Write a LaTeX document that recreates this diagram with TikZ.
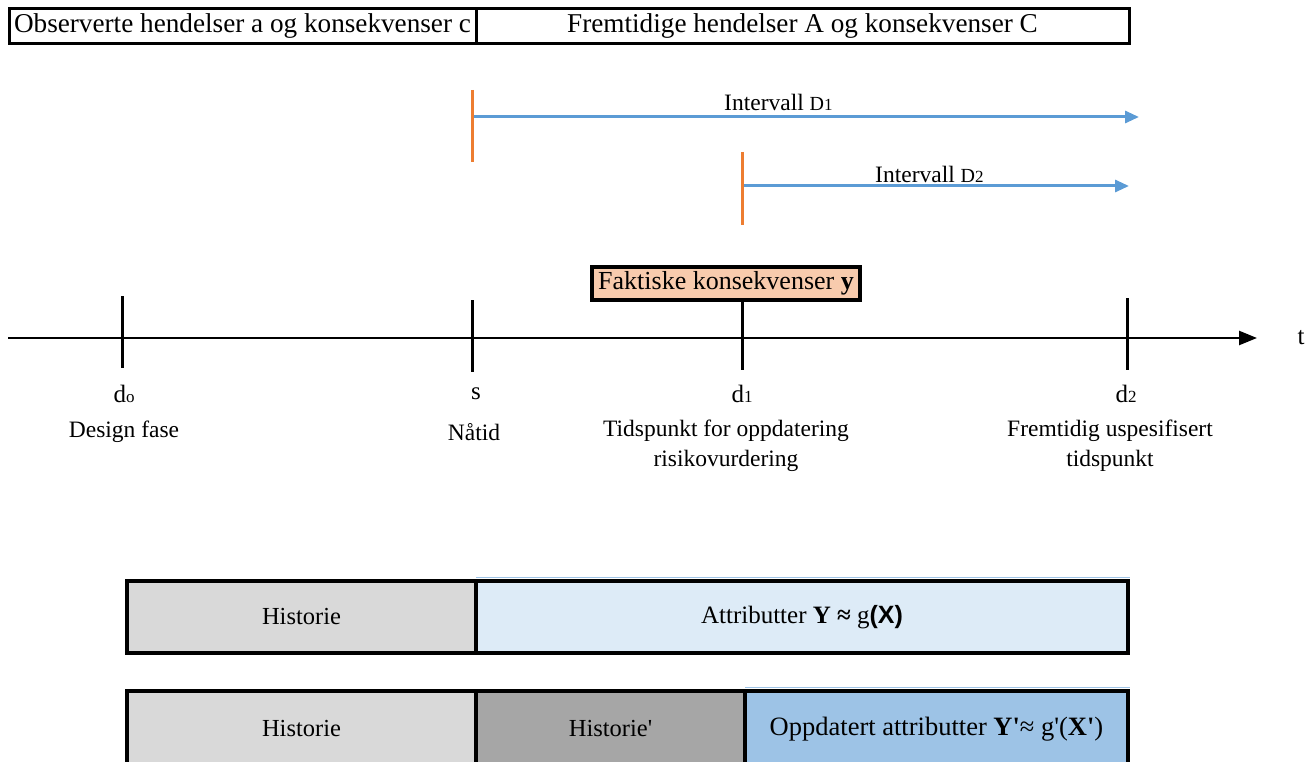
\documentclass[tikz,border=0pt]{standalone}
\usepackage{fontspec}
\setmainfont{Liberation Serif}[Ligatures=TeXOff]
\newfontfamily\sansfam{Liberation Sans}[Ligatures=TeXOff]
\usetikzlibrary{arrows.meta}

\definecolor{arrowblue}{HTML}{5B9BD5}
\definecolor{markorange}{HTML}{ED7D31}
\definecolor{peach}{HTML}{F8CBAD}
\definecolor{paleblue}{HTML}{DDEBF7}
\definecolor{midblue}{HTML}{9DC3E6}
\definecolor{lightgrey}{HTML}{D9D9D9}
\definecolor{darkgrey}{HTML}{A6A6A6}

\newcommand\setfs[1]{\fontsize{#1}{#1}\selectfont}

\tikzset{
  headbox/.style={draw=black, line width=3pt, inner sep=0pt, font=\setfs{27.2}},
  factbox/.style={draw=black, line width=4pt, fill=peach, inner sep=0pt, font=\setfs{26}},
  barbox/.style={draw=black, line width=4pt, inner sep=0pt, font=\setfs{24.5}},
  axisline/.style={line width=2.5pt, -{Triangle[length=18pt,width=14pt]}},
  tick/.style={line width=3pt},
  startmark/.style={markorange, line width=3pt},
  interval/.style={arrowblue, line width=3pt, -{Triangle[length=14pt,width=12pt]}},
  intlabel/.style={anchor=base west, inner sep=0pt, font=\setfs{23.5}},
  pointlabel/.style={inner sep=0pt, font=\setfs{25}},
  desclabel/.style={inner sep=0pt, font=\fontsize{23.5}{30}\selectfont, align=center},
  edgeline/.style={midblue, line width=1.2pt}
}

\begin{document}
\begin{tikzpicture}[x=1pt,y=-1pt]
\useasboundingbox (0,0) rectangle (1309,762);
\clip (0,0) rectangle (1309,762);

% header: observed vs. future events
\node[headbox, minimum width=467pt, minimum height=35pt] (obs) at (242.5,26.5)
  {Observerte hendelser a og konsekvenser c};
\node[headbox, minimum width=653pt, minimum height=35pt] (fut) at (802.5,26.5)
  {Fremtidige hendelser A og konsekvenser C};

% interval D1
\coordinate (m1top) at (472,90);
\coordinate (m1bot) at (472,162);
\coordinate (i1s) at (472,117);
\coordinate (i1e) at (1139,117);
\draw[interval] (i1s) -- (i1e);
\draw[startmark] (m1top) -- (m1bot);
\node[intlabel] (lab1) at (724,111) {Intervall {\setfs{20}D}{\setfs{17}1}};

% interval D2
\coordinate (m2top) at (742,152);
\coordinate (m2bot) at (742,225);
\coordinate (i2s) at (742,186);
\coordinate (i2e) at (1129,186);
\draw[interval] (i2s) -- (i2e);
\draw[startmark] (m2top) -- (m2bot);
\node[intlabel] (lab2) at (875,183) {Intervall {\setfs{20}D}{\setfs{17}2}};

% actual consequences
\node[factbox, minimum width=268pt, minimum height=33pt] (fact) at (726,283.5)
  {Faktiske konsekvenser \textbf{y}};

% time axis
\coordinate (ax0) at (8,338);
\coordinate (ax1) at (1257,338);
\draw[axisline] (ax0) -- (ax1);
\node[pointlabel] (tlab) at (1301,338) {t};

% time points
\coordinate (t0a) at (122,296); \coordinate (t0b) at (122,368);
\coordinate (tsa) at (472,300); \coordinate (tsb) at (472,372);
\coordinate (t1a) at (742,300); \coordinate (t1b) at (742,370);
\coordinate (t2a) at (1127,298); \coordinate (t2b) at (1127,370);
\draw[tick] (t0a) -- (t0b);
\draw[tick] (tsa) -- (tsb);
\draw[tick] (t1a) -- (t1b);
\draw[tick] (t2a) -- (t2b);

\node[pointlabel] (p0) at (124,394) {d{\setfs{17}o}};
\node[pointlabel] (ps) at (476,394) {s};
\node[pointlabel] (p1) at (742,394) {d{\setfs{17}1}};
\node[pointlabel] (p2) at (1126,394) {d{\setfs{17}2}};

\node[desclabel] (q0) at (124,432) {Design fase};
\node[desclabel] (qs) at (474,432) {Nåtid};
\node[desclabel, anchor=north] (q1) at (726,420) {Tidspunkt for oppdatering\\risikovurdering};
\node[desclabel, anchor=north] (q2) at (1110,420) {Fremtidig uspesifisert\\tidspunkt};

% attribute bars
\draw[edgeline] (476,577.5) -- (1130,577.5);
\node[barbox, fill=lightgrey, minimum width=349pt, minimum height=72pt] (hist1) at (301.5,617) {Historie};
\node[barbox, fill=paleblue, minimum width=652pt, minimum height=72pt, font=\setfs{25}] (attr) at (802,617)
  {Attributter \textbf{Y ≈} g{\sansfam\bfseries(X)}};

\draw[edgeline] (745,687.5) -- (1130,687.5);
\node[barbox, fill=lightgrey, minimum width=349pt, minimum height=76pt] (hist2) at (301.5,729) {Historie};
\node[barbox, fill=darkgrey, minimum width=269pt, minimum height=76pt] (histp) at (610.5,729) {Historie'};
\node[barbox, fill=midblue, minimum width=383pt, minimum height=76pt, font=\setfs{26.5}] (upd) at (936.5,729)
  {Oppdatert attributter \textbf{Y'}≈ g'(\textbf{X'})};
\end{tikzpicture}
\end{document}
